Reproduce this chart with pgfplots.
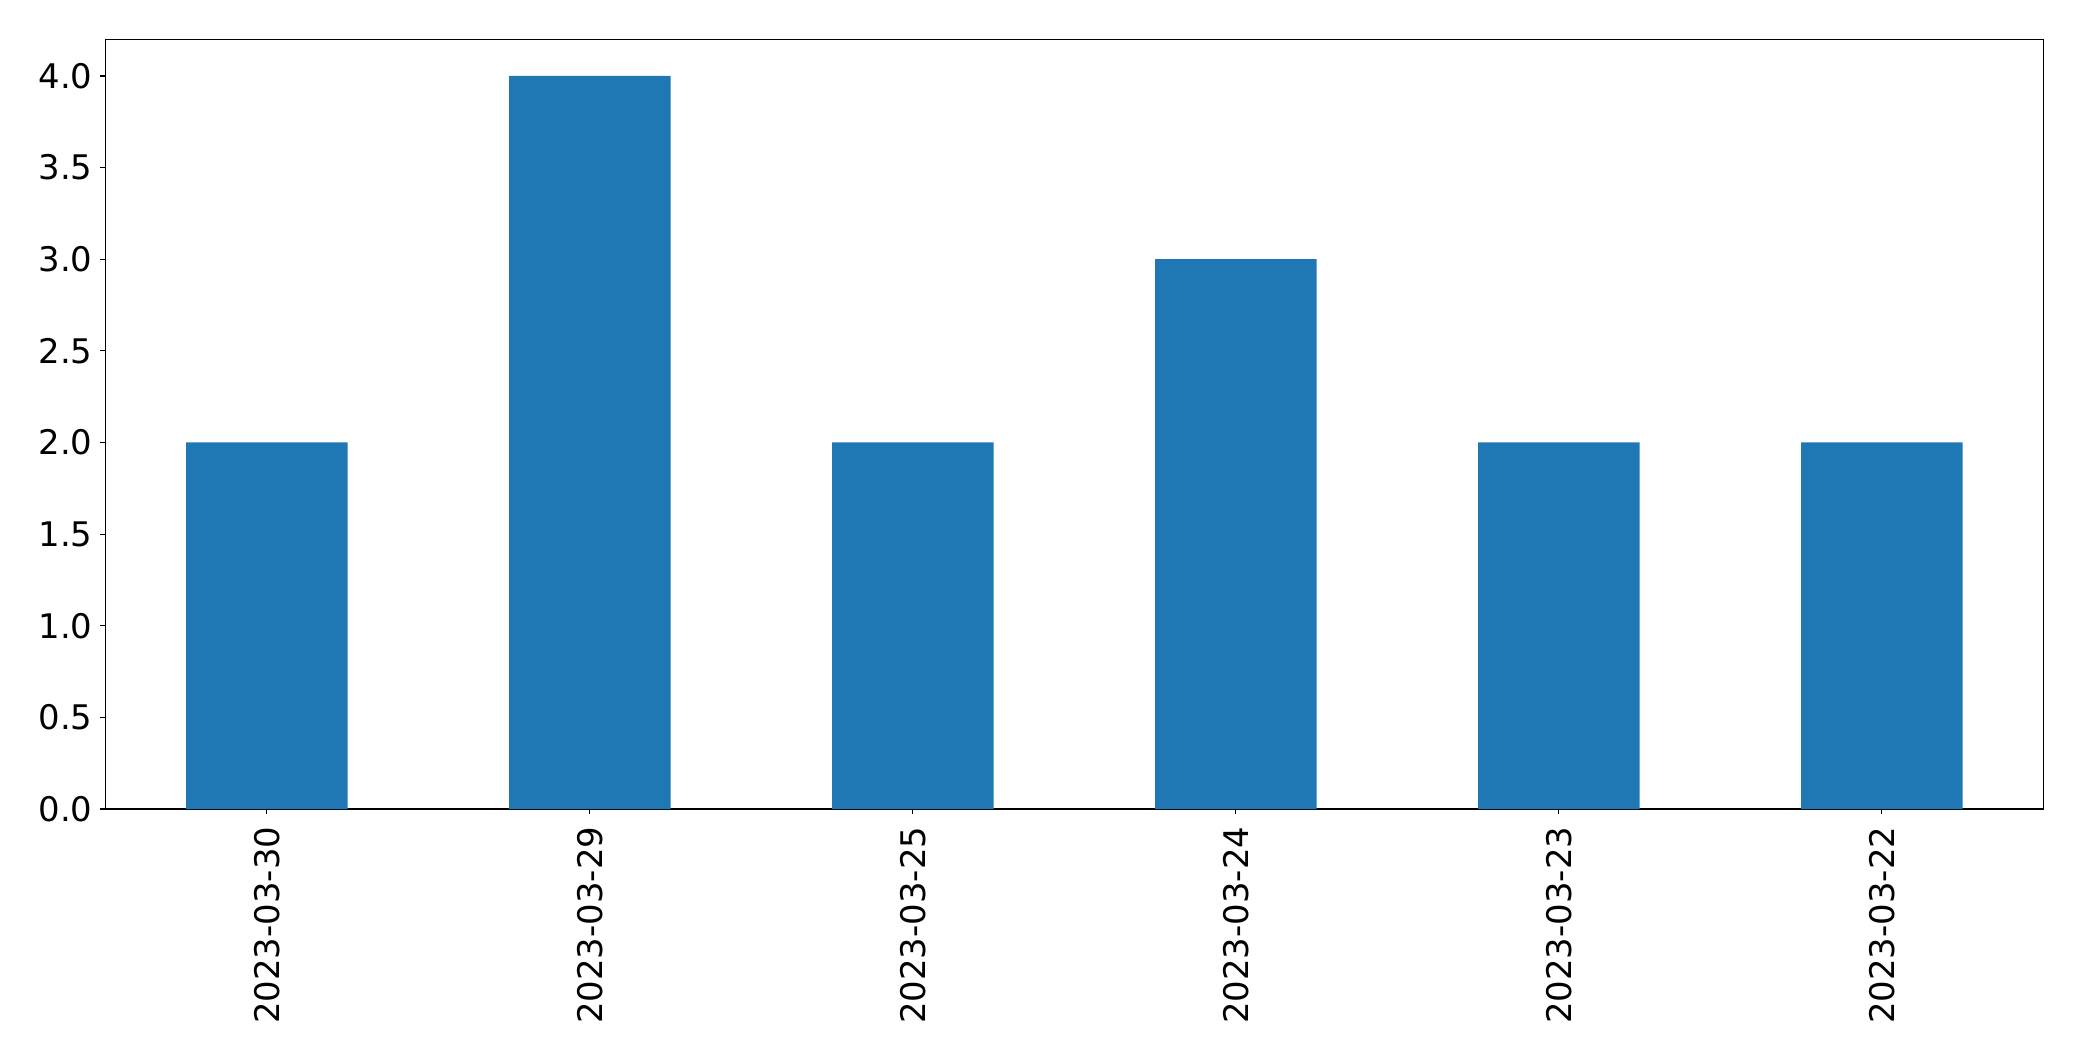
\documentclass[border=0pt]{standalone}
\usepackage{pgfplots}
\pgfplotsset{compat=1.18}
\usepackage{fontspec}
\setmainfont{DejaVu Sans}
\definecolor{tabblue}{HTML}{1F77B4}
\begin{document}
\fontsize{24.4bp}{28bp}\selectfont
\begin{tikzpicture}
\begin{axis}[
  name=ax,
  scale only axis,
  width=1395.4bp, height=554.2bp,
  xmin=-0.5, xmax=5.5,
  ymin=0, ymax=4.2,
  axis line style={line width=0.8bp},
  every tick/.style={black, line width=0.8bp},
  tick align=outside,
  major tick length=3.5bp,
  xtick pos=bottom, ytick pos=left,
  xtick={0,1,2,3,4,5},
  xticklabels={2023-03-30,2023-03-29,2023-03-25,2023-03-24,2023-03-23,2023-03-22},
  ytick={0,0.5,1,1.5,2,2.5,3,3.5,4},
  /pgf/number format/assume math mode=true,
  yticklabel style={/pgf/number format/fixed, /pgf/number format/fixed zerofill, /pgf/number format/precision=1, inner sep=0pt, xshift=-5.6bp},
  xticklabel style={rotate=90, anchor=east, inner sep=0pt, xshift=-9.1bp},
  ticklabel style={font=\fontsize{24.4bp}{28bp}\selectfont},
]
\addplot[ybar, bar width=0.5, fill=tabblue, draw=none, bar shift=0pt] coordinates {
  (0,2) (1,4) (2,2) (3,3) (4,2) (5,2)
};
\end{axis}
\pgfresetboundingbox
\path[use as bounding box] ([xshift=-75.8bp, yshift=-181.4bp]ax.south west) rectangle ([xshift=27.9bp, yshift=28.3bp]ax.north east);
\end{tikzpicture}
\end{document}
